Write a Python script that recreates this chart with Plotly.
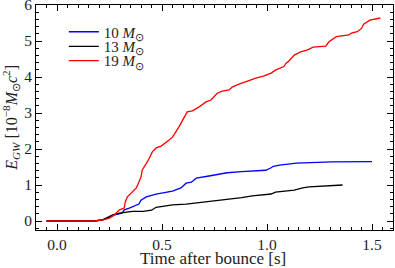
import plotly.graph_objects as go

t10 = [-0.05, 0.18, 0.22, 0.25, 0.28, 0.31, 0.32, 0.344, 0.39, 0.40, 0.425, 0.472, 0.55, 0.59, 0.615, 0.64, 0.663, 0.724, 0.786, 0.81, 0.88, 0.994, 1.02, 1.03, 1.06, 1.09, 1.14, 1.31, 1.50]
e10 = [0, 0, 0.04, 0.12, 0.18, 0.22, 0.31, 0.36, 0.47, 0.58, 0.67, 0.75, 0.83, 0.92, 1.05, 1.08, 1.19, 1.25, 1.3, 1.34, 1.37, 1.41, 1.48, 1.52, 1.55, 1.58, 1.61, 1.64, 1.65]

t13 = [-0.05, 0.18, 0.22, 0.25, 0.265, 0.297, 0.36, 0.41, 0.45, 0.472, 0.55, 0.615, 0.677, 0.74, 0.787, 0.88, 0.93, 1.02, 1.04, 1.13, 1.17, 1.2, 1.36]
e13 = [0, 0, 0.04, 0.12, 0.17, 0.22, 0.27, 0.27, 0.3, 0.38, 0.45, 0.47, 0.51, 0.57, 0.58, 0.65, 0.7, 0.75, 0.8, 0.86, 0.92, 0.95, 1.0]

t19 = [-0.05, 0.18, 0.22, 0.25, 0.273, 0.297, 0.32, 0.325, 0.335, 0.354, 0.378, 0.40, 0.406, 0.43, 0.454, 0.472, 0.496, 0.534, 0.55, 0.58, 0.605, 0.62, 0.645, 0.677, 0.71, 0.733, 0.763, 0.787, 0.82, 0.834, 0.867, 0.905, 0.947, 0.986, 1.02, 1.04, 1.07, 1.08, 1.09, 1.10, 1.13, 1.16, 1.19, 1.22, 1.28, 1.295, 1.33, 1.39, 1.405, 1.43, 1.45, 1.46, 1.49, 1.54]
e19 = [0, 0, 0.03, 0.08, 0.17, 0.31, 0.36, 0.53, 0.67, 0.78, 0.92, 1.22, 1.42, 1.64, 1.92, 2.03, 2.08, 2.25, 2.33, 2.61, 2.89, 3.03, 3.06, 3.17, 3.31, 3.36, 3.55, 3.61, 3.64, 3.72, 3.8, 3.89, 3.97, 4.03, 4.11, 4.19, 4.25, 4.29, 4.38, 4.42, 4.61, 4.7, 4.75, 4.83, 4.86, 4.98, 5.12, 5.17, 5.23, 5.26, 5.35, 5.47, 5.58, 5.64]

names = ["10 <i>M</i><sub>⊙</sub>", "13 <i>M</i><sub>⊙</sub>", "19 <i>M</i><sub>⊙</sub>"]
colors = ["#0000ff", "#000000", "#ff0000"]
legend_ids = ["legend", "legend2", "legend3"]
legend_y = [0.88, 0.815, 0.752]

font = "Liberation Serif"
txt = "#222"

fig = go.Figure()
for t, e, n, c, lg in zip([t10, t13, t19], [e10, e13, e19], names, colors, legend_ids):
    fig.add_trace(go.Scatter(x=t, y=e, mode="lines", name=n, legend=lg, showlegend=True,
                             line=dict(color=c, width=1.3)))

axis_common = dict(showline=True, linecolor="black", linewidth=1, mirror="allticks",
                   ticks="inside", ticklen=6, tickwidth=1, tickcolor="black",
                   showgrid=False, zeroline=False, automargin=False,
                   ticklabeloverflow="allow",
                   tickfont=dict(family=font, size=15.5, color=txt))
fig.update_xaxes(range=[-0.1, 1.6], dtick=0.5, tick0=0, tickformat=".1f",
                 minor=dict(dtick=0.05, tick0=0, ticks="inside", ticklen=3, tickcolor="black"),
                 **axis_common)
fig.update_yaxes(range=[-0.25, 6.001], dtick=1, tick0=0,
                 minor=dict(dtick=0.2, tick0=0, ticks="inside", ticklen=3, tickcolor="black"),
                 **axis_common)

legends = {}
for lg, ly in zip(legend_ids, legend_y):
    legends[lg] = dict(x=0.078, y=ly, xanchor="left", yanchor="middle", visible=True,
                       bgcolor="rgba(0,0,0,0)", borderwidth=0,
                       font=dict(family=font, size=15, color=txt), itemwidth=30)

fig.update_layout(width=395, height=268, margin=dict(l=36, r=2, t=5, b=38),
                  plot_bgcolor="white", paper_bgcolor="white", showlegend=True,
                  annotations=[
                      dict(text="Time after bounce [s]", xref="paper", yref="paper",
                           x=0.497, y=-0.128, xanchor="center", yanchor="middle",
                           showarrow=False, font=dict(family=font, size=17, color=txt)),
                      dict(text="<i>E</i><sub><i>GW</i></sub> [10<sup>−8</sup><i>M</i><sub>⊙</sub><i>c</i><sup>2</sup>]",
                           xref="paper", yref="paper", x=-0.072, y=0.5, textangle=-90,
                           xanchor="center", yanchor="middle", showarrow=False,
                           font=dict(family=font, size=16, color=txt)),
                  ],
                  **legends)
fig.write_html("out.html", config={"displayModeBar": False},
               post_script="document.body.style.margin='0';")
